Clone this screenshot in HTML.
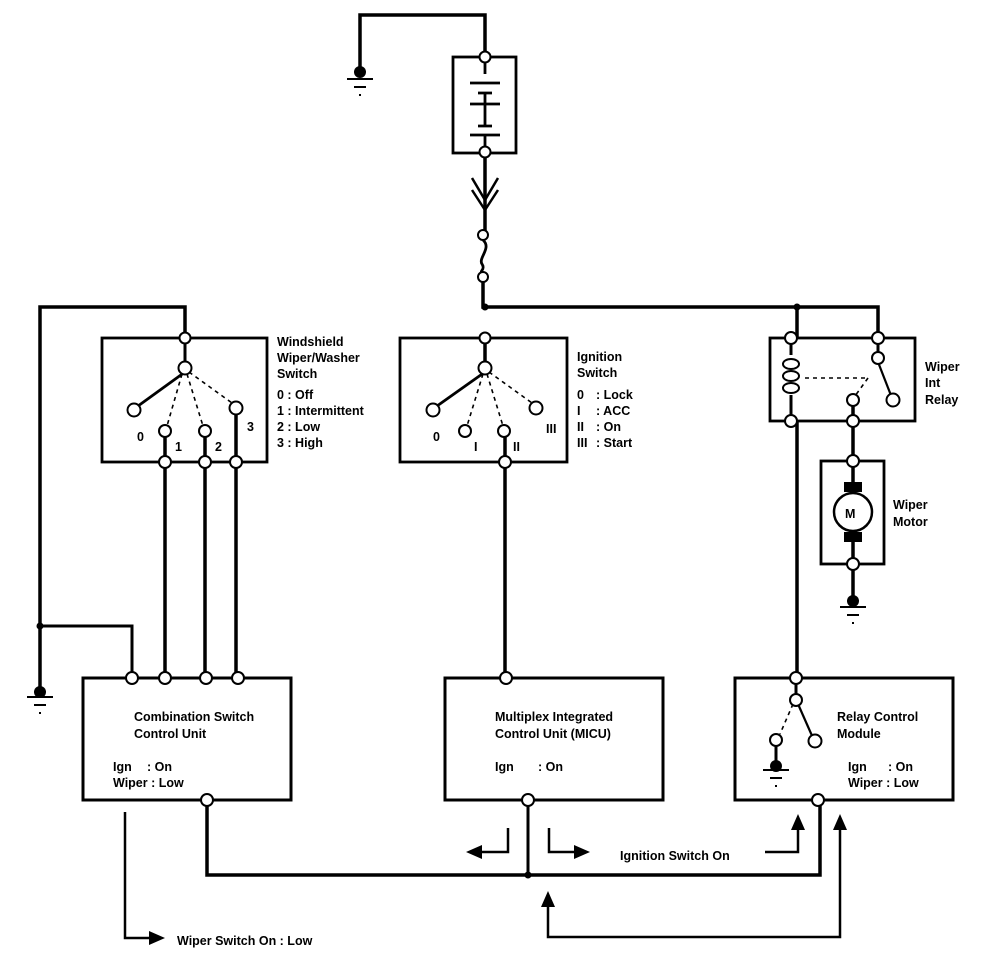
<!DOCTYPE html>
<html><head><meta charset="utf-8"><style>
html,body{margin:0;padding:0;background:#fff}
svg{display:block}
text{font-family:"Liberation Sans Narrow","Liberation Sans",sans-serif;font-weight:bold;font-size:12.5px;fill:#000}
</style></head><body>
<svg width="1008" height="980" viewBox="0 0 1008 980" xmlns="http://www.w3.org/2000/svg">
<g fill="none" stroke="#000" stroke-width="2.8">
<path d="M360,72 V15 H485 V57" stroke-width="3.5"/>
<rect x="453" y="57" width="63" height="96"/>
<path d="M485,57 V74 M470,83 H500 M478,93 H492 M485,93 V126 M470,104 H500 M478,126 H492 M470,135 H500 M485,135 V152"/>
<path d="M485,152 V235" stroke-width="3.5"/>
<path d="M472,178 L485,200 L498,178 M472,190 L485,210 L498,190" stroke-width="2.5"/>
<path d="M483,240 C492,248 478,258 482,264 C486,270 478,272 483,272"/>
<path d="M483,282 V307 H878 V337" stroke-width="3.5"/>
<path d="M797,307 V337" stroke-width="3.5"/>
<rect x="102" y="338" width="165" height="124"/>
<path d="M185,337 V307 H40 V690" stroke-width="3.5"/>
<path d="M40,626 H132 V678" stroke-width="3"/>
<path d="M185,338 V368" stroke-width="3"/>
<path d="M185,372 L138,406"/>
<path d="M182,374 L167,426 M187,374 L203,426 M189,372 L232,403" stroke-dasharray="4,4" stroke-width="1.6"/>
<path d="M165,436 V678 M205,436 V678 M236,412 V678" stroke-width="3.5"/>
<rect x="400" y="338" width="167" height="124"/>
<path d="M485,338 V368" stroke-width="3.5"/>
<path d="M485,372 L437,406"/>
<path d="M483,374 L467,426 M487,374 L503,426 M489,372 L532,403" stroke-dasharray="4,4" stroke-width="1.6"/>
<path d="M505,436 V678" stroke-width="3.5"/>
<rect x="770" y="338" width="145" height="83"/>
<path d="M791,338 V355 M791,395 V421" stroke-width="3"/>
<g stroke-width="2"><ellipse cx="791" cy="364" rx="8" ry="5"/><ellipse cx="791" cy="376" rx="8" ry="5"/><ellipse cx="791" cy="388" rx="8" ry="5"/></g>
<path d="M805,378 H868 M868,378 L855,396" stroke-dasharray="4,4" stroke-width="1.6"/>
<path d="M878,338 V356" stroke-width="3"/>
<path d="M878,362 L892,398" stroke-width="2.2"/>
<path d="M853,404 V461" stroke-width="3.5"/>
<path d="M797,421 V678" stroke-width="3.5"/>
<rect x="821" y="461" width="63" height="103"/>
<path d="M853,461 V490 M853,534 V600" stroke-width="3.5"/>
<rect x="83" y="678" width="208" height="122" stroke-width="3"/>
<rect x="445" y="678" width="218" height="122" stroke-width="3"/>
<rect x="735" y="678" width="218" height="122" stroke-width="3"/>
<path d="M796,678 V700" stroke-width="3"/>
<path d="M798,704 L813,738" stroke-width="2.2"/>
<path d="M793,704 L780,734" stroke-dasharray="4,4" stroke-width="1.6"/>
<path d="M776,744 V765" stroke-width="3"/>
<path d="M207,804 V875 H820 V804" stroke-width="3.5"/>
<path d="M528,804 V875" stroke-width="3"/>
<path d="M508,828 V852 H480" stroke-width="2.5"/>
<path d="M549,828 V852 H575" stroke-width="2.5"/>
<path d="M765,852 H798 V828" stroke-width="2.5"/>
<path d="M840,828 V937 H548 V905" stroke-width="2.5"/>
<path d="M125,812 V938 H150" stroke-width="2.5"/>
<path d="M347,79 H373 M354,87 H366 M359,95 H361 M27,697 H53 M34,705 H46 M39,713 H41 M763,770 H789 M770,778 H782 M775,786 H777 M840,607 H866 M847,615 H859 M852,623 H854" stroke-width="2"/>
</g>
<g fill="#000">
<circle cx="360" cy="72" r="6"/><circle cx="40" cy="692" r="6"/><circle cx="776" cy="766" r="6"/><circle cx="853" cy="601" r="6"/>
<circle cx="485" cy="307" r="3.5"/><circle cx="797" cy="307" r="3.5"/><circle cx="40" cy="626" r="3.5"/><circle cx="528" cy="875" r="3.5"/>
<rect x="844" y="482" width="18" height="10"/><rect x="844" y="532" width="18" height="10"/>
<polygon points="466,852 482,845 482,859"/>
<polygon points="590,852 574,845 574,859"/>
<polygon points="798,814 791,830 805,830"/>
<polygon points="840,814 833,830 847,830"/>
<polygon points="548,891 541,907 555,907"/>
<polygon points="165,938 149,931 149,945"/>
</g>
<g fill="#fff" stroke="#000" stroke-width="2">
<circle cx="485" cy="57" r="5.5"/><circle cx="485" cy="152" r="5.5"/>
<circle cx="483" cy="235" r="5"/><circle cx="483" cy="277" r="5"/>
<circle cx="185" cy="338" r="5.5"/><circle cx="185" cy="368" r="6.5"/>
<circle cx="134" cy="410" r="6.5"/><circle cx="165" cy="431" r="6"/><circle cx="205" cy="431" r="6"/><circle cx="236" cy="408" r="6.5"/>
<circle cx="165" cy="462" r="6"/><circle cx="205" cy="462" r="6"/><circle cx="236" cy="462" r="6"/>
<circle cx="485" cy="338" r="5.5"/><circle cx="485" cy="368" r="6.5"/>
<circle cx="433" cy="410" r="6.5"/><circle cx="465" cy="431" r="6"/><circle cx="504" cy="431" r="6"/><circle cx="536" cy="408" r="6.5"/>
<circle cx="505" cy="462" r="6"/>
<circle cx="791" cy="338" r="6"/><circle cx="878" cy="338" r="6"/><circle cx="878" cy="358" r="6"/><circle cx="893" cy="400" r="6.5"/>
<circle cx="853" cy="400" r="6"/><circle cx="791" cy="421" r="6"/><circle cx="853" cy="421" r="6"/>
<circle cx="853" cy="461" r="6"/><circle cx="853" cy="564" r="6"/>
<circle cx="853" cy="512" r="19" stroke-width="2.5"/>
<circle cx="132" cy="678" r="6"/><circle cx="165" cy="678" r="6"/><circle cx="206" cy="678" r="6"/><circle cx="238" cy="678" r="6"/>
<circle cx="207" cy="800" r="6"/><circle cx="506" cy="678" r="6"/><circle cx="528" cy="800" r="6"/>
<circle cx="796" cy="678" r="6"/><circle cx="796" cy="700" r="6"/><circle cx="815" cy="741" r="6.5"/><circle cx="776" cy="740" r="6"/>
<circle cx="818" cy="800" r="6"/>
</g>
<text x="845" y="518" font-size="15">M</text>
<text x="277" y="346">Windshield</text>
<text x="277" y="362">Wiper/Washer</text>
<text x="277" y="378">Switch</text>
<text x="277" y="399">0  :  Off</text>
<text x="277" y="415">1  :  Intermittent</text>
<text x="277" y="431">2  :  Low</text>
<text x="277" y="447">3  :  High</text>
<text x="137" y="441">0</text><text x="175" y="451">1</text><text x="215" y="451">2</text><text x="247" y="431">3</text>
<text x="577" y="361">Ignition</text>
<text x="577" y="377">Switch</text>
<text x="577" y="399">0</text><text x="596" y="399">:  Lock</text>
<text x="577" y="415">I</text><text x="596" y="415">:  ACC</text>
<text x="577" y="431">II</text><text x="596" y="431">:  On</text>
<text x="577" y="447">III</text><text x="596" y="447">:  Start</text>
<text x="433" y="441">0</text><text x="474" y="451">I</text><text x="513" y="451">II</text><text x="546" y="433">III</text>
<text x="925" y="371">Wiper</text><text x="925" y="387">Int</text><text x="925" y="404">Relay</text>
<text x="893" y="509">Wiper</text><text x="893" y="526">Motor</text>
<text x="134" y="721">Combination Switch</text>
<text x="134" y="738">Control Unit</text>
<text x="113" y="771">Ign</text><text x="147" y="771">:  On</text>
<text x="113" y="787">Wiper  :  Low</text>
<text x="495" y="721">Multiplex Integrated</text>
<text x="495" y="738">Control Unit (MICU)</text>
<text x="495" y="771">Ign</text><text x="538" y="771">:  On</text>
<text x="837" y="721">Relay Control</text>
<text x="837" y="738">Module</text>
<text x="848" y="771">Ign</text><text x="888" y="771">:  On</text>
<text x="848" y="787">Wiper  :  Low</text>
<text x="620" y="860">Ignition Switch On</text>
<text x="177" y="945">Wiper Switch On : Low</text>
</svg>
</body></html>
